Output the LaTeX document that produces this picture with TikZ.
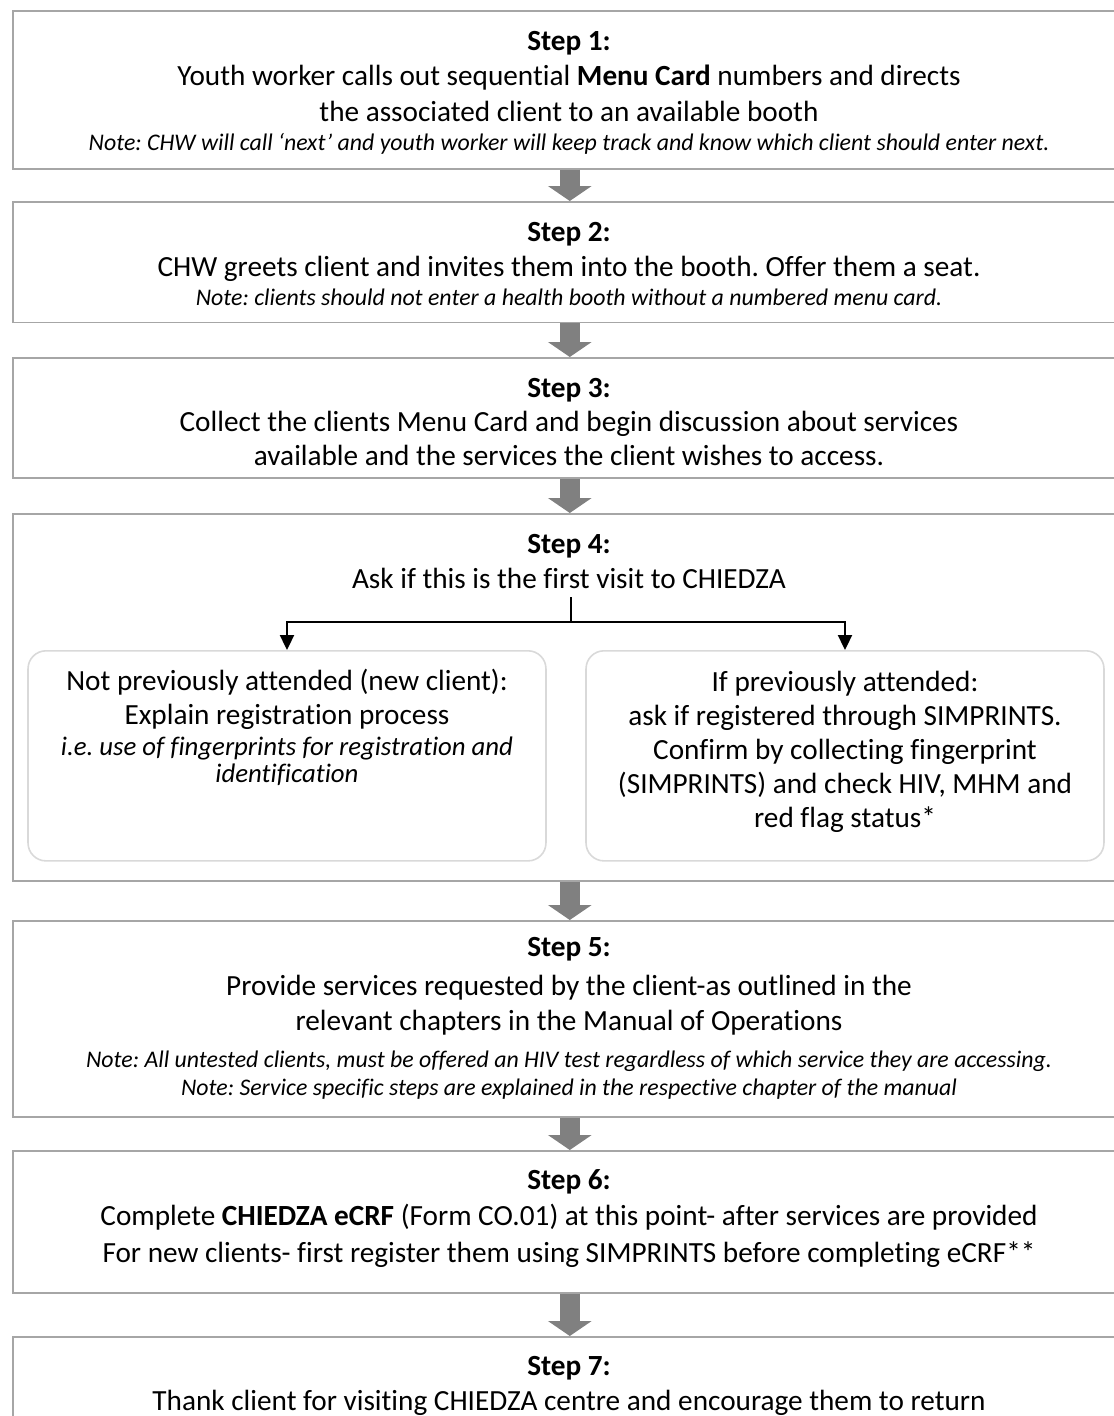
\documentclass[tikz,border=0pt]{standalone}
\usepackage{fontspec}
\setmainfont{Carlito}[Ligatures=CommonOff]
\usetikzlibrary{arrows.meta}
\frenchspacing
\definecolor{boxline}{RGB}{166,166,166}
\definecolor{subline}{RGB}{217,217,217}
\definecolor{fatgray}{RGB}{128,128,128}
\tikzset{
  outer/.style={draw=boxline, line width=0.65pt, minimum width=453.4pt, anchor=north west, inner sep=0pt},
  subbox/.style={draw=subline, line width=0.65pt, rounded corners=7.3pt, minimum width=210.8pt, minimum height=85.5pt, anchor=north, inner sep=0pt},
  fat/.style={draw=fatgray, line width=8.1pt, -{Triangle[width=17.5pt,length=6.1pt]}},
  thinarr/.style={draw=black, line width=0.9pt, -{Triangle[width=5.7pt,length=6.1pt]}},
  main/.style={anchor=base, inner sep=0pt, font=\fontsize{11.9}{14.5}\selectfont},
  hdr/.style={main, font=\fontsize{11.9}{14.5}\selectfont\bfseries},
  note/.style={anchor=base, inner sep=0pt, font=\fontsize{9.7}{12}\selectfont\itshape},
  subit/.style={anchor=base, inner sep=0pt, font=\fontsize{10.9}{13}\selectfont\itshape},
}
\begin{document}
\begin{tikzpicture}[x=0.407pt, y=-0.407pt]
\useasboundingbox (0,0) rectangle (1114,1416);
\clip (0,0) rectangle (1114,1416);
% outer boxes
\node[outer, minimum height=64.3pt] (b1) at (12,10) {};
\node[outer, minimum height=49.2pt] (b2) at (12,201) {};
\node[outer, minimum height=48.8pt] (b3) at (12,357) {};
\node[outer, minimum height=149.4pt] (b4) at (12,513) {};
\node[outer, minimum height=79.8pt] (b5) at (12,920) {};
\node[outer, minimum height=57.8pt] (b6) at (12,1150) {};
\node[outer, minimum height=81.4pt] (b7) at (12,1336) {};
% fat arrows
\draw[fat] (b1.south) -- (b2.north);
\draw[fat] (b2.south) -- (b3.north);
\draw[fat] (b3.south) -- (b4.north);
\draw[fat] (b4.south) -- (b5.north);
\draw[fat] (b5.south) -- (b6.north);
\draw[fat] (b6.south) -- (b7.north);
% box 1
\node[hdr] (s1) at (569,50) {Step 1:};
\node[main] (s1a) at (569,85) {Youth worker calls out sequential \textbf{Menu Card} numbers and directs};
\node[main] (s1b) at (569,121) {the associated client to an available booth};
\node[note] (s1n) at (569,150) {Note: CHW will call ‘next’ and youth worker will keep track and know which client should enter next.};
% box 2
\node[hdr] (s2) at (569,241) {Step 2:};
\node[main] (s2a) at (569,276) {CHW greets client and invites them into the booth. Offer them a seat.};
\node[note] (s2n) at (569,305) {Note: clients should not enter a health booth without a numbered menu card.};
% box 3
\node[hdr] (s3) at (569,397) {Step 3:};
\node[main] (s3a) at (569,431) {Collect the clients Menu Card and begin discussion about services};
\node[main] (s3b) at (569,465) {available and the services the client wishes to access.};
% box 4
\node[hdr] (s4) at (569,553) {Step 4:};
\node[main] (s4a) at (569,588) {Ask if this is the first visit to CHIEDZA};
\node[subbox] (sl) at (287,650) {};
\node[subbox] (sr) at (845,650) {};
\coordinate (stem) at (571,597);
\coordinate (junc) at (571,622);
\draw[line width=0.9pt] (stem) -- (junc);
\draw[thinarr] (junc) -| (sl.north);
\draw[thinarr] (junc) -| (sr.north);
\node[main] (l1) at (287,690) {Not previously attended (new client):};
\node[main] (l2) at (287,724) {Explain registration process};
\node[subit] (l3) at (287,755) {i.e. use of fingerprints for registration and};
\node[subit] (l4) at (287,782) {identification};
\node[main] (r1) at (845,691) {If previously attended:};
\node[main] (r2) at (845,725) {ask if registered through SIMPRINTS.};
\node[main] (r3) at (845,759) {Confirm by collecting fingerprint};
\node[main] (r4) at (845,793) {(SIMPRINTS) and check HIV, MHM and};
\node[main] (r5) at (845,827) {red flag status*};
% box 5
\node[hdr] (s5) at (569,956) {Step 5:};
\node[main] (s5a) at (569,995) {Provide services requested by the client-as outlined in the};
\node[main] (s5b) at (569,1030) {relevant chapters in the Manual of Operations};
\node[note] (s5n1) at (569,1067) {Note: All untested clients, must be offered an HIV test regardless of which service they are accessing.};
\node[note] (s5n2) at (569,1095) {Note: Service specific steps are explained in the respective chapter of the manual};
% box 6
\node[hdr] (s6) at (569,1189) {Step 6:};
\node[main] (s6a) at (569,1225) {Complete \textbf{CHIEDZA eCRF} (Form CO.01) at this point- after services are provided};
\node[main] (s6b) at (569,1262) {For new clients- first register them using SIMPRINTS before completing eCRF**};
% box 7
\node[hdr] (s7) at (569,1375) {Step 7:};
\node[main] (s7a) at (569,1410) {Thank client for visiting CHIEDZA centre and encourage them to return};
\end{tikzpicture}
\end{document}
